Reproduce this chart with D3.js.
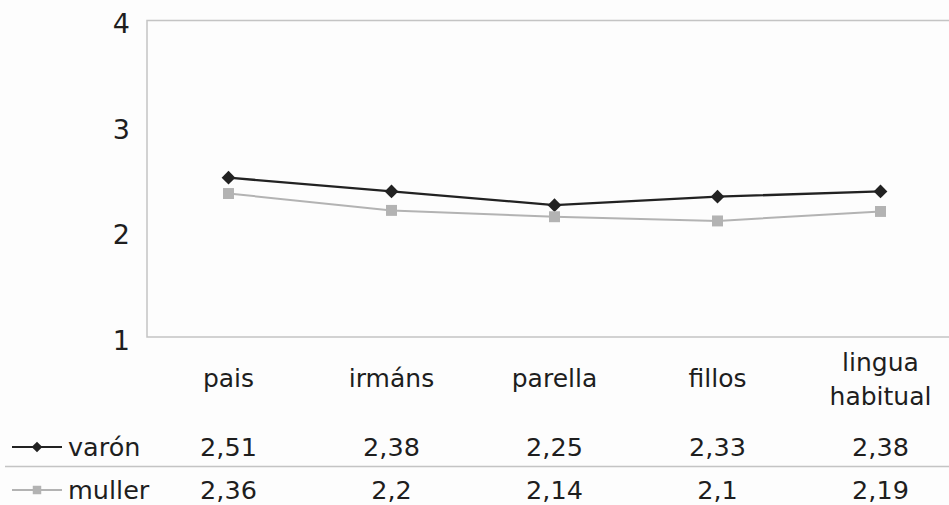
<!DOCTYPE html>
<html>
<head>
<meta charset="utf-8">
<script src="https://cdn.jsdelivr.net/npm/d3@7"></script>
<style>
  body { margin: 0; background: #fdfdfd; }
  text { font-family: "DejaVu Sans", Verdana, sans-serif; fill: #1e1e1e; }
</style>
</head>
<body>
<div id="chart"></div>
<script>
// Data
const categories = ["pais", "irmáns", "parella", "fillos", "lingua habitual"];
const seriesNames = ["varón", "muller"];
const varon = [2.51, 2.38, 2.25, 2.33, 2.38];
const muller = [2.36, 2.2, 2.14, 2.1, 2.19];
const yTicks = [1, 2, 3, 4];

const W = 949, H = 505;
const plot = { left: 147, top: 20.5, bottom: 337, band: 163 };

const svg = d3.select("#chart")
  .append("svg")
  .attr("width", W)
  .attr("height", H);

const x = d3.scaleBand()
  .domain(categories)
  .range([plot.left, plot.left + plot.band * categories.length]);

const y = d3.scaleLinear()
  .domain([1, 4])
  .range([plot.bottom, plot.top]);

const frame = "#c4c4c4";

// plot frame (left, top, bottom)
svg.append("path")
  .attr("d", "M" + x.range()[1] + "," + y(4) +
             "H" + plot.left + "V" + y(1) + "H" + W)
  .attr("fill", "none")
  .attr("stroke", frame)
  .attr("stroke-width", 1.5);

// y axis labels
const yAxis = svg.append("g")
  .attr("transform", "translate(" + (plot.left - 17) + ",0)")
  .call(d3.axisLeft(y).tickValues(yTicks).tickSize(0).tickFormat(d3.format("d")));
yAxis.select(".domain").remove();
yAxis.selectAll("text")
  .attr("x", 0)
  .attr("dy", "0.45em")
  .style("font-size", "27px")
  .style("font-family", "'DejaVu Sans', Verdana, sans-serif")
  .attr("fill", "#1e1e1e");

const cx = d => x(d) + x.bandwidth() / 2;

const series = [
  { name: seriesNames[0], values: varon, color: "#222", symbol: d3.symbolDiamond2, size: 120, width: 2.3 },
  { name: seriesNames[1], values: muller, color: "#b3b3b3", symbol: d3.symbolSquare, size: 120, width: 2 }
];

const line = d3.line()
  .x((d, i) => cx(categories[i]))
  .y(d => y(d));

series.forEach(function(s) {
  svg.append("path")
    .datum(s.values)
    .attr("d", line)
    .attr("fill", "none")
    .attr("stroke", s.color)
    .attr("stroke-width", s.width);
  svg.selectAll(null)
    .data(s.values)
    .enter().append("path")
    .attr("d", d3.symbol().type(s.symbol).size(s.size))
    .attr("transform", (d, i) => "translate(" + cx(categories[i]) + "," + y(d) + ")")
    .attr("fill", s.color);
});

// category row of the data table
const catRow = svg.append("g");
categories.forEach(function(c) {
  const words = c.split(" ");
  const t = catRow.append("text")
    .attr("x", cx(c))
    .attr("y", 387 - (words.length - 1) * 16)
    .attr("text-anchor", "middle")
    .style("font-size", "25px");
  words.forEach(function(w, i) {
    t.append("tspan").attr("x", cx(c)).attr("dy", i === 0 ? 0 : 34).text(w);
  });
});

// separator between series rows
svg.append("line")
  .attr("x1", 5).attr("x2", W)
  .attr("y1", 466.5).attr("y2", 466.5)
  .attr("stroke", frame)
  .attr("stroke-width", 1.5);

const fmt = v => String(v).replace(".", ",");
const rowY = [456, 499];

series.forEach(function(s, k) {
  const g = svg.append("g");
  const ly = rowY[k] - 9;
  g.append("line")
    .attr("x1", 12).attr("x2", 62)
    .attr("y1", ly).attr("y2", ly)
    .attr("stroke", s.color)
    .attr("stroke-width", 2);
  g.append("path")
    .attr("d", d3.symbol().type(s.symbol).size(s.size * 0.6))
    .attr("transform", "translate(37," + ly + ")")
    .attr("fill", s.color);
  g.append("text")
    .attr("x", 68)
    .attr("y", rowY[k])
    .style("font-size", "25.5px")
    .text(s.name);
  g.selectAll("text.val")
    .data(s.values)
    .enter().append("text")
    .attr("class", "val")
    .attr("x", (d, i) => cx(categories[i]))
    .attr("y", rowY[k])
    .attr("text-anchor", "middle")
    .style("font-size", "25.5px")
    .text(fmt);
});
</script>
</body>
</html>
